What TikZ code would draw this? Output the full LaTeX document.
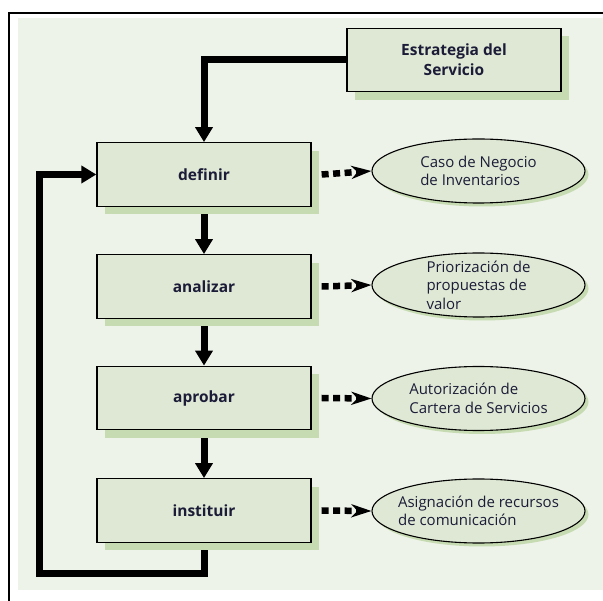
\documentclass[tikz,border=0pt]{standalone}
\usepackage{fontspec}
\setmainfont{Open Sans}
\usetikzlibrary{arrows.meta,shadows,backgrounds,shapes.geometric}

\definecolor{panelbg}{HTML}{EEF3EA}
\definecolor{boxfill}{HTML}{DEE8D4}
\definecolor{boxshade}{HTML}{C6DBB1}
\definecolor{ink}{HTML}{1C1C38}

\tikzset{
  stepbox/.style={draw=black, line width=1.3pt, fill=boxfill,
    minimum width=214pt, minimum height=63.5pt, inner sep=0pt,
    font=\bfseries\fontsize{15.5}{20}\selectfont, text=ink, align=center,
    drop shadow={shadow xshift=8pt, shadow yshift=-8pt, fill=boxshade, opacity=1}},
  outcome/.style={ellipse, draw=black, line width=1.1pt, fill=boxfill,
    minimum width=213pt, minimum height=64pt, inner xsep=-40pt, inner ysep=-20pt,
    font=\fontsize{15}{18.5}\selectfont, text=ink, align=left,
    drop shadow={shadow xshift=3.5pt, shadow yshift=-3.5pt, fill=boxshade, opacity=1}},
  flow/.style={line width=7pt, draw=black,
    -{Triangle[width=17pt, length=15pt]}},
  feed/.style={line width=6.5pt, draw=black, dash pattern=on 7pt off 4.5pt,
    -{Stealth[width=13pt, length=20pt, inset=6pt]}}
}

\begin{document}
\begin{tikzpicture}[x=1pt, y=-1pt]
  \useasboundingbox (0,0) rectangle (603,601);

  % process steps
  \node[stepbox] (strat) at (454,60)    {Estrategia del\\Servicio};
  \node[stepbox] (def)   at (204,174.5) {definir};
  \node[stepbox] (ana)   at (204,286.5) {analizar};
  \node[stepbox] (apr)   at (204,398)   {aprobar};
  \node[stepbox] (ins)   at (204,510.5) {instituir};

  % outputs of each step
  \node[outcome] (o1) at (478.5,171)   {Caso de Negocio\\de Inventarios};
  \node[outcome] (o2) at (478.5,285)   {Priorización de\\propuestas de\\valor};
  \node[outcome] (o3) at (478.5,398.5) {Autorización de\\Cartera de Servicios};
  \node[outcome] (o4) at (478.5,511)   {Asignación de recursos\\de comunicación};

  % corner of the return loop
  \coordinate (loopbl) at (39.5,574);

  \begin{scope}[on background layer]
    % white margin, frame lines and panel
    \fill[white] (0,0) rectangle (603,601);
    \fill[panelbg] (18,18) rectangle (603,590);
    \draw[line width=2pt] (9,601) -- (9,13) -- (603,13);

    % main flow
    \draw[flow] (strat.west) -| (def.north);
    \draw[flow] (def.south) -- (ana.north);
    \draw[flow] (ana.south) -- (apr.north);
    \draw[flow] (apr.south) -- (ins.north);
    \draw[flow, line join=miter] (ins.south) |- (loopbl) |- (def.west);

    % step outputs
    \draw[feed] ([xshift=10pt]def.east) -- (o1.west);
    \draw[feed] ([xshift=10pt]ana.east) -- (o2.west);
    \draw[feed] ([xshift=10pt]apr.east) -- (o3.west);
    \draw[feed] ([xshift=10pt]ins.east) -- (o4.west);
  \end{scope}
\end{tikzpicture}
\end{document}
